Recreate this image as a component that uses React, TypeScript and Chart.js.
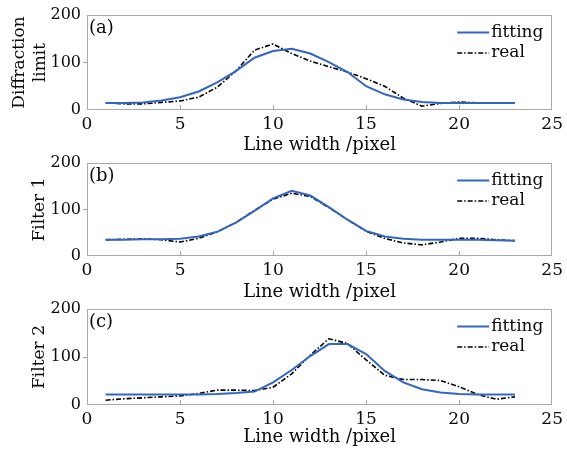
import React, { useEffect, useRef } from "react";
import { Chart, registerables } from "chart.js";

Chart.register(...registerables);

// ---------- data ----------
const xValues = [1, 2, 3, 4, 5, 6, 7, 8, 9, 10, 11, 12, 13, 14, 15, 16, 17, 18, 19, 20, 21, 22, 23];
const seriesNames = ["fitting", "real"];
const panelLabels = ["(a)", "(b)", "(c)"];
const yTitles: (string | string[])[] = [["Diffraction", "limit"], "Filter 1", "Filter 2"];
const xTitle = "Line width /pixel";
const xTicks = [0, 5, 10, 15, 20, 25];
const yTicks = [0, 100, 200];

const fitA = [15, 15, 16, 20, 27, 39, 58, 82, 110, 124, 129, 119, 101, 80, 50, 33, 22, 17, 15, 15, 15, 15, 15];
const realA = [15, 13, 13, 16, 19, 27, 48, 82, 126, 139, 119, 103, 91, 80, 66, 50, 25, 8, 14, 17, 15, 15, 15];

const fitB = [35, 35, 36, 36, 37, 42, 52, 72, 97, 124, 140, 130, 105, 78, 54, 42, 37, 35, 35, 35, 35, 34, 33];
const realB = [35, 36, 37, 35, 30, 38, 52, 72, 98, 122, 135, 128, 104, 78, 53, 38, 28, 24, 30, 38, 38, 35, 33];

const fitC = [22, 22, 22, 22, 22, 22, 23, 25, 28, 47, 73, 102, 127, 127, 106, 71, 47, 33, 26, 23, 22, 22, 22];
const realC = [10, 13, 15, 17, 19, 24, 31, 31, 30, 37, 65, 104, 138, 128, 94, 62, 53, 53, 51, 38, 22, 12, 17];

const fitSeries = [fitA, fitB, fitC];
const realSeries = [realA, realB, realC];

// ---------- style ----------
const FONT = "'DejaVu Serif', serif";
const BLUE = "#3366c4";
const GRAY = "#a8a8a8";
const TEXT = "#0a0a0a";
const XTICK_SIZE = 17;
const YTICK_SIZE = 16;
const XTITLE_SIZE = 18;
const YTITLE_SIZE = 17;

type Geo = {
  top: number;
  height: number;
  plotTop: number;
  plotBottom: number;
  titleCenter: number;
  yTitleCenter: number;
};

const geos: Geo[] = [
  { top: 0, height: 160, plotTop: 15, plotBottom: 110, titleCenter: 145, yTitleCenter: 20 },
  { top: 150, height: 160, plotTop: 163, plotBottom: 256, titleCenter: 292, yTitleCenter: 39.5 },
  { top: 297, height: 154, plotTop: 309, plotBottom: 405, titleCenter: 437, yTitleCenter: 39.5 },
];

const PLOT_LEFT = 87;
const PLOT_RIGHT = 555;
const W = 567;

function makePlugin(label: string) {
  return {
    id: "decor",
    beforeDatasetsDraw(chart: any) {
      const { ctx, chartArea: ca } = chart;
      ctx.save();
      ctx.strokeStyle = GRAY;
      ctx.lineWidth = 1;
      ctx.strokeRect(Math.round(ca.left) + 0.5, Math.round(ca.top) + 0.5, Math.round(ca.right - ca.left) - 1, Math.round(ca.bottom - ca.top) - 1);
      const xs = chart.scales.x;
      ctx.beginPath();
      for (const v of xTicks) {
        if (v === xTicks[0] || v === xTicks[xTicks.length - 1]) continue;
        const px = Math.round(xs.getPixelForValue(v)) + 0.5;
        ctx.moveTo(px, ca.bottom - 1);
        ctx.lineTo(px, ca.bottom - 5);
      }
      ctx.stroke();
      ctx.restore();
    },
    afterDraw(chart: any) {
      const { ctx, chartArea: ca } = chart;
      ctx.save();
      ctx.fillStyle = TEXT;
      ctx.font = `18px ${FONT}`;
      ctx.textBaseline = "middle";
      ctx.textAlign = "left";
      ctx.fillText(label, ca.left + 2, ca.top + 13);
      // legend
      ctx.font = `17px ${FONT}`;
      chart.data.datasets.forEach((ds: any, i: number) => {
        const y = ca.top + 17.5 + i * 20.5;
        const x0 = ca.right - 95;
        const x1 = ca.right - 63;
        ctx.beginPath();
        ctx.strokeStyle = ds.borderColor;
        ctx.lineWidth = ds.borderWidth;
        ctx.setLineDash(ds.borderDash || []);
        ctx.moveTo(x0, y);
        ctx.lineTo(x1, y);
        ctx.stroke();
        ctx.setLineDash([]);
        ctx.fillStyle = TEXT;
        ctx.fillText(ds.label, x1 + 2, y);
      });
      ctx.restore();
    },
  };
}

function Panel({ idx }: { idx: number }) {
  const ref = useRef<HTMLCanvasElement | null>(null);
  const g = geos[idx];
  useEffect(() => {
    if (!ref.current) return;
    const xHeight = g.height - (g.plotBottom - g.top);
    const titlePadBottom = g.top + g.height - g.titleCenter - (XTITLE_SIZE * 1.2) / 2;
    const yTitlePadTop = g.yTitleCenter - (YTITLE_SIZE * 1.2) / 2;
    const chart = new Chart(ref.current, {
      type: "line",
      data: {
        datasets: [
          {
            label: seriesNames[0],
            data: xValues.map((x, i) => ({ x, y: fitSeries[idx][i] })),
            borderColor: BLUE,
            borderWidth: 2,
            pointRadius: 0,
            tension: 0,
            fill: false,
          },
          {
            label: seriesNames[1],
            data: xValues.map((x, i) => ({ x, y: realSeries[idx][i] })),
            borderColor: "#000000",
            borderWidth: 1.6,
            borderDash: [5, 2, 1.5, 2],
            pointRadius: 0,
            tension: 0,
            fill: false,
          },
        ],
      },
      options: {
        animation: false,
        responsive: false,
        maintainAspectRatio: false,
        layout: { padding: { top: g.plotTop - g.top, right: W - PLOT_RIGHT, left: 0, bottom: 0 } },
        plugins: { legend: { display: false }, tooltip: { enabled: false } },
        scales: {
          x: {
            type: "linear",
            min: 0,
            max: 25,
            afterBuildTicks: (s: any) => {
              s.ticks = xTicks.map((v) => ({ value: v }));
            },
            afterFit: (s: any) => {
              s.height = xHeight;
            },
            grid: { display: false, drawTicks: false },
            border: { display: false },
            ticks: { color: TEXT, font: { family: FONT, size: XTICK_SIZE }, padding: 4, maxRotation: 0, autoSkip: false },
            title: {
              display: true,
              text: xTitle,
              color: TEXT,
              font: { family: FONT, size: XTITLE_SIZE },
              padding: { top: 0, bottom: titlePadBottom },
            },
          },
          y: {
            type: "linear",
            min: 0,
            max: 200,
            afterBuildTicks: (s: any) => {
              s.ticks = yTicks.map((v) => ({ value: v }));
            },
            afterFit: (s: any) => {
              s.width = PLOT_LEFT;
            },
            grid: {
              display: true,
              drawOnChartArea: false,
              drawTicks: true,
              tickLength: 4,
              color: (c: any) => (c.tick && c.tick.value === 100 ? GRAY : "rgba(0,0,0,0)"),
            },
            border: { display: false },
            ticks: { color: TEXT, font: { family: FONT, size: YTICK_SIZE }, padding: 2 },
            title: {
              display: true,
              text: yTitles[idx] as any,
              color: TEXT,
              font: { family: FONT, size: YTITLE_SIZE },
              padding: { top: yTitlePadTop, bottom: 0 },
            },
          },
        },
      },
      plugins: [makePlugin(panelLabels[idx])],
    } as any);
    return () => chart.destroy();
  }, [idx]);
  return (
    <canvas
      ref={ref}
      width={W}
      height={g.height}
      style={{ position: "absolute", left: 0, top: g.top, width: W, height: g.height }}
    />
  );
}

export default function App() {
  return (
    <div style={{ position: "fixed", left: 0, top: 0, width: W, height: 451, background: "#ffffff", overflow: "hidden" }}>
      <Panel idx={0} />
      <Panel idx={1} />
      <Panel idx={2} />
    </div>
  );
}
